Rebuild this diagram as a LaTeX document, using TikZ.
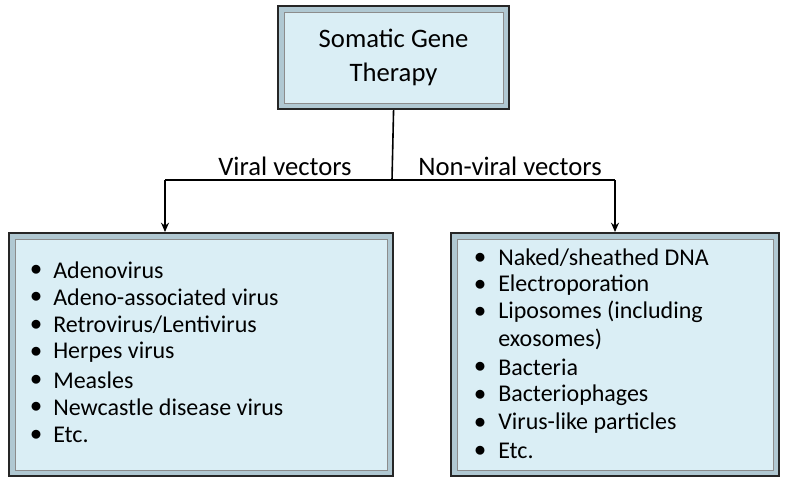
\documentclass[tikz,border=0pt]{standalone}
\usepackage{fontspec}
\setmainfont{Carlito}
\usetikzlibrary{arrows.meta}
\definecolor{bevel}{RGB}{176,200,210}
\definecolor{inner}{RGB}{218,238,245}
\tikzset{
 box/.style={draw=black!85,line width=1.6pt,fill=bevel,inner sep=0pt,anchor=north west},
 innerbox/.style={draw=black!45,line width=0.5pt,fill=inner},
 conn/.style={line width=1.2pt,-{Stealth[length=7pt,width=6pt]}},
 lbl/.style={font=\fontsize{20}{26}\selectfont},
 item/.style={font=\fontsize{18}{21}\selectfont,anchor=west,inner sep=0pt},
}
\begin{document}
\begin{tikzpicture}[x=0.75pt,y=-0.75pt]
\useasboundingbox (0,0) rectangle (785,483);
% top
\node[box,minimum width=231*0.75pt,minimum height=103*0.75pt] (top) at (277,5) {};
\draw[innerbox] ([shift={(7,7)}]top.north west) rectangle ([shift={(-7,-7)}]top.south east);
\node[lbl,align=center] (topt) at (top.center) {Somatic Gene\\Therapy};
% left
\node[box,minimum width=384*0.75pt,minimum height=243*0.75pt] (L) at (8,232) {};
\draw[innerbox] ([shift={(7,7)}]L.north west) rectangle ([shift={(-7,-7)}]L.south east);
% right
\node[box,minimum width=328*0.75pt,minimum height=243*0.75pt] (R) at (450,232) {};
\draw[innerbox] ([shift={(7,7)}]R.north west) rectangle ([shift={(-7,-7)}]R.south east);
% connectors
\coordinate (J) at (392,180);
\coordinate (JL) at (165,180);
\coordinate (JR) at (615,180);
\draw[line width=1.2pt] (top.south) -- (J);
\draw[line width=1.2pt] (JL) -- (JR);
\draw[conn] (JL) -- (JL|-L.north);
\draw[conn] (JR) -- (JR|-R.north);
\node[lbl] (vl) at (285,166) {Viral vectors};
\node[lbl] (nvl) at (510,166) {Non-viral vectors};
% left items
\foreach \t [count=\i] in {Adenovirus,Adeno-associated virus,Retrovirus/Lentivirus,Herpes virus,Measles,Newcastle disease virus,Etc.}{
 \node[item] (l\i) at (53,270+27.5*\i-27.5) {\t};
 \node[item] (lb\i) at (30,270+27.5*\i-27.5) {$\bullet$};
}
% right items
\foreach \t/\y/\b in {{Naked/sheathed DNA}/258/1,Electroporation/285/1,Liposomes (including/312/1,exosomes)/339/0,Bacteria/367/1,Bacteriophages/395/1,Virus-like particles/423/1,Etc./451/1}{
 \node[item] at (498,\y) {\t};
 \ifnum\b=1 \node[item] at (474,\y) {$\bullet$};\fi
}
\end{tikzpicture}
\end{document}
